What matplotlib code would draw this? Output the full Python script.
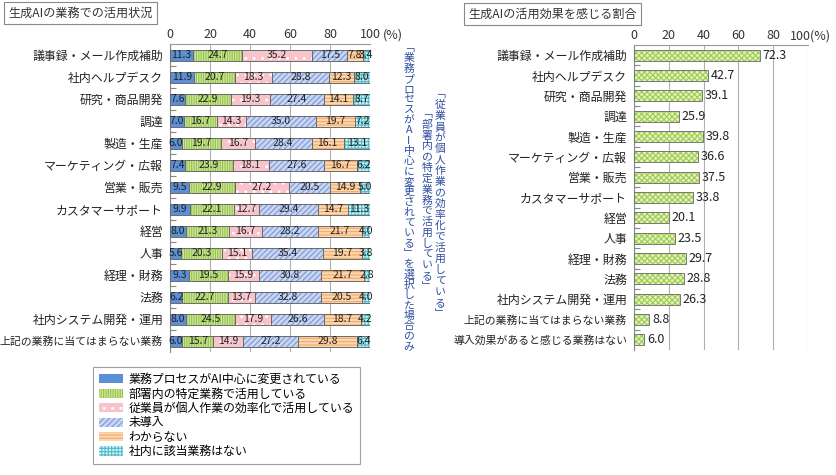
import numpy as np
import matplotlib
matplotlib.use("Agg")
import matplotlib.pyplot as plt
from matplotlib.patches import Patch

plt.rcParams['font.family'] = ['Noto Sans CJK JP', 'DejaVu Sans']
plt.rcParams['hatch.linewidth'] = 0.8

# ---- data ----
left_cats = ["議事録・メール作成補助", "社内ヘルプデスク", "研究・商品開発", "調達",
             "製造・生産", "マーケティング・広報", "営業・販売", "カスタマーサポート",
             "経営", "人事", "経理・財務", "法務", "社内システム開発・運用",
             "上記の業務に当てはまらない業務"]
s_ai_center = [11.3, 11.9, 7.6, 7.0, 6.0, 7.4, 9.5, 9.9, 8.0, 5.6, 9.3, 6.2, 8.0, 6.0]
s_dept = [24.7, 20.7, 22.9, 16.7, 19.7, 23.9, 22.9, 22.1, 21.3, 20.3, 19.5, 22.7, 24.5, 15.7]
s_personal = [35.2, 18.3, 19.3, 14.3, 16.7, 18.1, 27.2, 12.7, 16.7, 15.1, 15.9, 13.7, 17.9, 14.9]
s_none = [17.5, 28.8, 27.4, 35.0, 28.4, 27.6, 20.5, 29.4, 28.2, 35.4, 30.8, 32.8, 26.6, 27.2]
s_unknown = [7.8, 12.3, 14.1, 19.7, 16.1, 16.7, 14.9, 14.7, 21.7, 19.7, 21.7, 20.5, 18.7, 29.8]
s_na = [3.4, 8.0, 8.7, 7.2, 13.1, 6.2, 5.0, 11.3, 4.0, 3.8, 2.8, 4.0, 4.2, 6.4]
series_names = ["業務プロセスがAI中心に変更されている", "部署内の特定業務で活用している",
                "従業員が個人作業の効率化で活用している", "未導入", "わからない",
                "社内に該当業務はない"]

right_cats = left_cats + ["導入効果があると感じる業務はない"]
right_vals = [72.3, 42.7, 39.1, 25.9, 39.8, 36.6, 37.5, 33.8, 20.1, 23.5, 29.7, 28.8,
              26.3, 8.8, 6.0]

# fill colour, hatch colour, hatch
styles = [("#5b8fd6", "#5b8fd6", None),
          ("#cfe69a", "#94c44a", "|||||||"),
          ("#f9c3cc", "#ffffff", ".."),
          ("#c9d6f2", "#7a98da", "//////"),
          ("#fdd7b2", "#f2a965", "-----"),
          ("#d6f3f3", "#4cbccc", "+++++")]
edge = "#6a6a6a"
grid_c = "#b0b0b0"

fig = plt.figure(figsize=(8.37, 4.75), dpi=100)
W, H = 837, 475


def px_axes(x0, y0, x1, y1):
    return fig.add_axes([x0 / W, 1 - y1 / H, (x1 - x0) / W, (y1 - y0) / H])


def style_axes(ax, cats):
    n = len(cats)
    ax.set_xlim(0, 100)
    ax.set_ylim(n - 0.5, -0.5)
    ax.xaxis.tick_top()
    ax.set_xticks([0, 20, 40, 60, 80, 100])
    ax.tick_params(axis='x', length=0, labelsize=9, pad=2, colors="#333333")
    ax.set_yticks(range(n))
    ax.set_yticklabels(cats)
    ax.tick_params(axis='y', which='major', length=0, pad=5, labelsize=8.6,
                   colors="#222222")
    # long labels are squeezed in the original
    for lab in ax.get_yticklabels():
        if len(lab.get_text()) > 12:
            lab.set_fontsize(7.8)
    ax.set_yticks(np.arange(0.5, n - 0.5, 1), minor=True)
    ax.tick_params(axis='y', which='minor', direction='in', length=4,
                   color="#888888", width=0.8)
    ax.grid(axis='x', color=grid_c, lw=0.8)
    ax.set_axisbelow(True)
    for sp in ['right', 'bottom']:
        ax.spines[sp].set_visible(False)
    ax.spines['left'].set_color("#888888")
    ax.spines['top'].set_color("#999999")


# ---- left chart ----
axL = px_axes(170, 44, 370, 352)
n = len(left_cats)
y = np.arange(n)
data = [s_ai_center, s_dept, s_personal, s_none, s_unknown, s_na]
left = np.zeros(n)
for vals, (fc, hc, hatch) in zip(data, styles):
    vals = np.array(vals)
    axL.barh(y, vals, left=left, height=0.5, color=fc, edgecolor=hc, hatch=hatch,
             linewidth=0, zorder=2)
    axL.barh(y, vals, left=left, height=0.5, fill=False, edgecolor=edge,
             linewidth=0.7, zorder=3)
    for yi, l, v in zip(y, left, vals):
        axL.text(l + v / 2, yi, f"{v:.1f}", ha='center', va='center', fontsize=7.5,
                 color="#222222", zorder=4)
    left = left + vals
style_axes(axL, left_cats)
axL.annotate("(%)", xy=(1, 1), xycoords='axes fraction', xytext=(9, 2),
             textcoords='offset points', fontsize=9, va='bottom', ha='left',
             color="#333333")

# ---- right chart ----
axR = px_axes(634, 45, 808, 350)
m = len(right_cats)
yr = np.arange(m)
axR.barh(yr, right_vals, height=0.55, color="#e4f2bf", edgecolor="#9ccc4e",
         hatch="xxxxxx", linewidth=0, zorder=2)
axR.barh(yr, right_vals, height=0.55, fill=False, edgecolor="#777777", linewidth=0.7,
         zorder=3)
for yi, v in zip(yr, right_vals):
    axR.text(v + 1.5, yi, f"{v:.1f}", ha='left', va='center', fontsize=9,
             color="#222222")
style_axes(axR, right_cats)
axR.set_xticklabels(["0", "20", "40", "60", "80", ""])
axR.annotate("100(%)", xy=(1, 1), xycoords='axes fraction', xytext=(-13, 2),
             textcoords='offset points', fontsize=9, va='bottom', ha='left',
             color="#333333")

# ---- titles ----
box = dict(boxstyle="square,pad=0.35", fc="white", ec="#888888", lw=0.8)
fig.text(8 / W, 1 - 13 / H, "生成AIの業務での活用状況", fontsize=8.7, va='center',
         ha='left', bbox=box, color="#333333")
fig.text(468 / W, 1 - 14 / H, "生成AIの活用効果を感じる割合", fontsize=8.7, va='center',
         ha='left', bbox=box, color="#333333")

# ---- legend ----
handles = [Patch(facecolor=fc, edgecolor=hc, hatch=h, linewidth=0)
           for fc, hc, h in styles]
leg = fig.legend(handles, series_names, loc='upper left',
                 bbox_to_anchor=(93 / W, 1 - 367 / H), fontsize=8.6,
                 frameon=True, fancybox=False, edgecolor="#888888",
                 handlelength=2.0, handleheight=0.8, labelspacing=0.12,
                 borderpad=0.5, handletextpad=0.5, borderaxespad=0)
leg.get_frame().set_linewidth(0.8)

# ---- vertical note text ----
blue = "#2d4fa0"


def vtext(x, y0, s, step=10.4):
    for i, ch in enumerate(s):
        fig.text(x / W, 1 - (y0 + i * step) / H, ch, fontsize=7.8, color=blue,
                 ha='center', va='center')


vtext(440, 94, "﹁従業員が個人作業の効率化で活用している﹂", step=11.0)
vtext(427, 114, "﹁部署内の特定業務で活用している﹂", step=10.8)
vtext(409, 48, "﹁業務プロセスがAI中心に変更されている﹂を選択した場合のみ", step=10.3)

fig.savefig("out.png", dpi=100)
